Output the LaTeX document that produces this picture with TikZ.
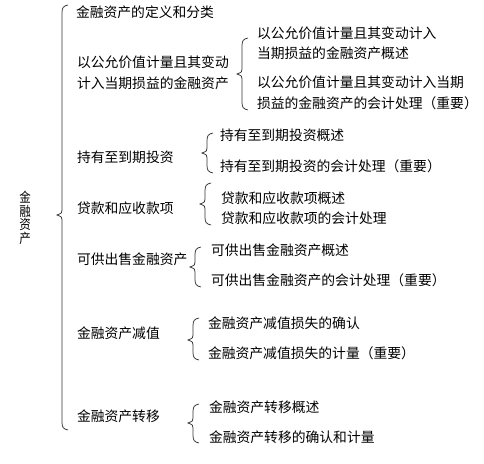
\documentclass[tikz,border=0pt]{standalone}
\usepackage{fontspec}
\newfontfamily\cjk{Noto Sans CJK SC}
\newcommand{\mybrace}[5]{% x, ytop, ytip, ybot, tipdepth
  \draw[bracestyle] (#1+6,#2) .. controls (#1+1,#2+1) and (#1,#2+3) .. (#1,#2+8)
    -- (#1,#3-5) .. controls (#1,#3-2) .. (#1-#5,#3)
    .. controls (#1,#3+2) .. (#1,#3+5)
    -- (#1,#4-8) .. controls (#1,#4-3) and (#1+1,#4-1) .. (#1+6,#4);}
\begin{document}
\begin{tikzpicture}[x=1pt,y=-1pt,
  bracestyle/.style={line width=0.75pt,draw=black!80},
  lbl/.style={anchor=west,inner sep=0pt,outer sep=0pt,font=\cjk\fontsize{13.8}{21}\selectfont,align=left,text=black},
  lbltwo/.style={lbl,font=\cjk\fontsize{13.8}{20.5}\selectfont}]
\useasboundingbox[fill=white] (0,0) rectangle (484,463);
% root vertical label
\node[inner sep=0pt,align=center,font=\cjk\fontsize{13.5}{13.6}\selectfont,xscale=0.85] (root) at (25,218) {金\\融\\资\\产};
% big brace
\mybrace{62}{5}{215}{430}{5}
% level 1
\node[lbl] (t1) at (76,12) {金融资产的定义和分类};
\node[lbl] (t2) at (77,72.5) {以公允价值计量且其变动\\计入当期损益的金融资产};
\node[lbl] (t3) at (77,157) {持有至到期投资};
\node[lbl] (t4) at (77,208) {贷款和应收款项};
\node[lbl] (t5) at (77,259) {可供出售金融资产};
\node[lbl] (t6) at (77,333) {金融资产减值};
\node[lbl] (t7) at (77,416) {金融资产转移};
% sub braces
\mybrace{242}{38}{74}{110}{5}
\mybrace{207}{133}{153}{173}{5}
\mybrace{205}{183}{204}{225}{5}
\mybrace{195}{247}{267}{287}{5}
\mybrace{193}{318}{340}{360}{5}
\mybrace{193}{404}{423}{443}{5}
% level 2
\node[lbltwo] (s1a) at (257,43) {以公允价值计量且其变动计入\\当期损益的金融资产概述};
\node[lbl] (s1b) at (257,93) {以公允价值计量且其变动计入当期\\损益的金融资产的会计处理（重要）};
\node[lbl] (s2a) at (220,135) {持有至到期投资概述};
\node[lbl] (s2b) at (220,166) {持有至到期投资的会计处理（重要）};
\node[lbl] (s3a) at (221,198) {贷款和应收款项概述};
\node[lbl] (s3b) at (221,218) {贷款和应收款项的会计处理};
\node[lbl] (s4a) at (211,250) {可供出售金融资产概述};
\node[lbl] (s4b) at (211,280) {可供出售金融资产的会计处理（重要）};
\node[lbl] (s5a) at (208,323) {金融资产减值损失的确认};
\node[lbl] (s5b) at (208,353) {金融资产减值损失的计量（重要）};
\node[lbl] (s6a) at (209,407) {金融资产转移概述};
\node[lbl] (s6b) at (209,437) {金融资产转移的确认和计量};
\end{tikzpicture}
\end{document}
